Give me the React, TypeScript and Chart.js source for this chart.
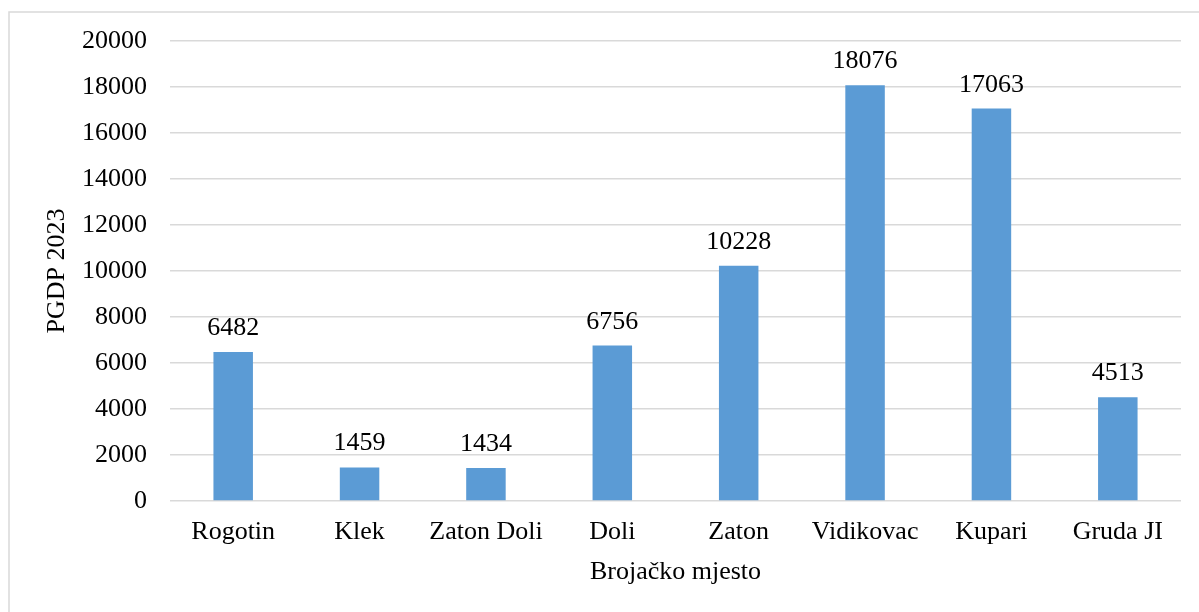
import React, { useEffect, useRef } from "react";
import { Chart, registerables } from "chart.js";

Chart.register(...registerables);

const categories = ["Rogotin", "Klek", "Zaton Doli", "Doli", "Zaton", "Vidikovac", "Kupari", "Gruda JI"];
const pgdpValues = [6482, 1459, 1434, 6756, 10228, 18076, 17063, 4513];
const yTickMin = 0;
const yTickMax = 20000;
const yTickStep = 2000;

const FONT_FAMILY = '"Liberation Serif", "Times New Roman", serif';

const frameBorder = {
  id: "frameBorder",
  beforeDraw(chart: any) {
    const ctx = chart.ctx;
    ctx.save();
    ctx.strokeStyle = "#d9d9d9";
    ctx.lineWidth = 1.5;
    ctx.beginPath();
    ctx.moveTo(9, chart.height);
    ctx.lineTo(9, 12);
    ctx.lineTo(chart.width, 12);
    ctx.stroke();
    ctx.restore();
  },
};

const valueLabels = {
  id: "valueLabels",
  afterDatasetsDraw(chart: any) {
    const ctx = chart.ctx;
    const meta = chart.getDatasetMeta(0);
    const data = chart.data.datasets[0].data;
    ctx.save();
    ctx.font = `26px ${FONT_FAMILY}`;
    ctx.fillStyle = "#000";
    ctx.textAlign = "center";
    ctx.textBaseline = "alphabetic";
    meta.data.forEach((bar: any, i: number) => {
      ctx.fillText(String(data[i]), bar.x, bar.y - 17);
    });
    ctx.restore();
  },
};

export default function App() {
  const canvasRef = useRef<HTMLCanvasElement | null>(null);

  useEffect(() => {
    const canvas = canvasRef.current;
    if (!canvas) return;
    const chart = new Chart(canvas, {
      type: "bar",
      data: {
        labels: categories,
        datasets: [
          {
            label: "PGDP 2023",
            data: pgdpValues,
            backgroundColor: "#5b9bd5",
            borderWidth: 0,
            barPercentage: 0.3125,
            categoryPercentage: 1,
          },
        ],
      },
      options: {
        animation: false,
        responsive: false,
        maintainAspectRatio: false,
        layout: { padding: { top: 41, right: 18, left: 0, bottom: 0 } },
        plugins: {
          legend: { display: false },
          tooltip: { enabled: false },
        },
        scales: {
          x: {
            grid: { display: false, drawTicks: false },
            border: { display: false },
            ticks: {
              color: "#000",
              font: { family: FONT_FAMILY, size: 26 },
              padding: 16,
              maxRotation: 0,
              autoSkip: false,
            },
            title: {
              display: true,
              text: "Brojačko mjesto",
              color: "#000",
              font: { family: FONT_FAMILY, size: 26 },
              padding: { top: 0, bottom: 24 },
            },
            afterFit(scale: any) {
              scale.height = 111;
            },
          },
          y: {
            min: yTickMin,
            max: yTickMax,
            grid: { color: "#d9d9d9", lineWidth: 1.5, drawTicks: false },
            border: { display: false },
            ticks: {
              stepSize: yTickStep,
              color: "#000",
              font: { family: FONT_FAMILY, size: 26 },
              padding: 23,
              callback: (value: any) => String(value),
            },
            title: {
              display: true,
              text: "PGDP 2023",
              color: "#000",
              font: { family: FONT_FAMILY, size: 26 },
              padding: { top: 42, bottom: 0 },
            },
            afterFit(scale: any) {
              scale.width = 170;
            },
          },
        },
      },
      plugins: [frameBorder, valueLabels],
    });
    return () => chart.destroy();
  }, []);

  return (
    <div style={{ position: "fixed", left: 0, top: 0, width: 1199, height: 612, background: "#fff" }}>
      <canvas ref={canvasRef} width={1199} height={612} style={{ display: "block", width: 1199, height: 612 }} />
    </div>
  );
}
